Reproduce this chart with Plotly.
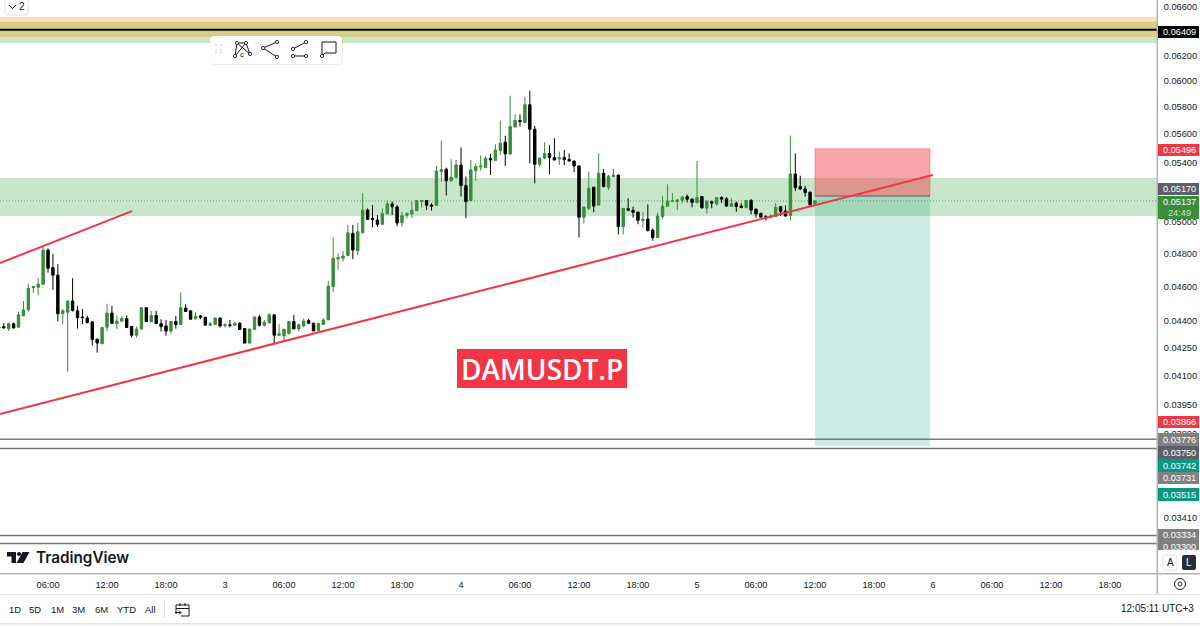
import math
import pandas as pd
import plotly.graph_objects as go

# ---------- data ----------
first_candle = "2025-05-02 01:00"
open_prices = [
 .04365,.04367,.04356,.04383,.04364,.04428,.04463,.04593,.04595,.04613,
 .04821,.04713,.04667,.04442,.04449,.04514,.04457,.04422,.04416,.04394,
 .04297,.04271,.04364,.04444,.04383,.04398,.04413,.04367,.04319,.04353,
 .04475,.04394,.04430,.04383,.04371,.04342,.04396,.04379,.04473,.04457,
 .04411,.04428,.04420,.04375,.04379,.04416,.04373,.04377,.04375,.04386,
 .04356,.04275,.04351,.04422,.04375,.04388,.04434,.04319,.04315,.04327,
 .04396,.04354,.04371,.04401,.04386,.04344,.04379,.04405,.04599,.04766,
 .04770,.04787,.04926,.04817,.04930,.05077,.05023,.05012,.04984,.05051,
 .05117,.05097,.04995,.05042,.05051,.05073,.05133,.05140,.05110,.05108,
 .05335,.05352,.05273,.05293,.05381,.05240,.05140,.05342,.05368,.05363,
 .05428,.05414,.05483,.05542,.05459,.05652,.05699,.05684,.05817,.05636,
 .05386,.05430,.05461,.05433,.05423,.05433,.05419,.05409,.05375,.05030,
 .05088,.05229,.05110,.05324,.05229,.05300,.05312,.04969,.05086,.05075,
 .05064,.05008,.05018,.04947,.04899,.05034,.05101,.05133,.05133,.05142,
 .05166,.05149,.05125,.05166,.05090,.05133,.05117,.05160,.05151,.05101,
 .05122,.05103,.05093,.05140,.05082,.05055,.05034,.05027,.05034,.05099,
 .05071,.05040,.05319,.05233,.05217,.05195,.05117]
high_prices = [
 .04375,.04386,.04390,.04390,.04453,.04514,.04615,.04603,.04649,.04846,
 .04831,.04797,.04734,.04467,.04516,.04649,.04486,.04467,.04428,.04396,
 .04299,.04362,.04498,.04486,.04428,.04428,.04432,.04371,.04367,.04475,
 .04478,.04457,.04457,.04409,.04405,.04396,.04428,.04565,.04494,.04459,
 .04449,.04434,.04422,.04392,.04416,.04418,.04386,.04405,.04392,.04392,
 .04358,.04354,.04422,.04434,.04405,.04444,.04436,.04381,.04353,.04396,
 .04434,.04383,.04414,.04411,.04390,.04385,.04414,.04633,.04900,.04801,
 .04815,.04980,.04980,.04992,.05189,.05088,.05110,.05044,.05088,.05140,
 .05133,.05110,.05066,.05060,.05133,.05142,.05144,.05144,.05122,.05375,
 .05552,.05363,.05421,.05416,.05504,.05300,.05416,.05393,.05449,.05440,
 .05459,.05528,.05699,.05588,.05885,.05745,.05745,.05877,.05924,.05660,
 .05433,.05542,.05523,.05571,.05475,.05487,.05463,.05411,.05377,.05097,
 .05335,.05233,.05463,.05354,.05312,.05354,.05314,.05090,.05155,.05099,
 .05066,.05066,.05114,.04958,.05060,.05170,.05248,.05189,.05149,.05170,
 .05180,.05155,.05409,.05170,.05144,.05138,.05162,.05166,.05162,.05155,
 .05133,.05122,.05144,.05151,.05088,.05060,.05044,.05049,.05122,.05103,
 .05106,.05590,.05463,.05307,.05239,.05200,.05140]
low_prices = [
 .04355,.04356,.04343,.04356,.04362,.04426,.04453,.04559,.04546,.04609,
 .04683,.04579,.04396,.04381,.04120,.04453,.04356,.04381,.04386,.04262,
 .04222,.04271,.04340,.04385,.04354,.04396,.04362,.04306,.04306,.04353,
 .04396,.04392,.04385,.04340,.04317,.04327,.04356,.04379,.04453,.04409,
 .04409,.04409,.04373,.04373,.04379,.04362,.04362,.04362,.04375,.04351,
 .04275,.04275,.04351,.04367,.04367,.04386,.04271,.04315,.04288,.04325,
 .04354,.04338,.04364,.04383,.04342,.04344,.04377,.04405,.04565,.04699,
 .04750,.04787,.04766,.04790,.04926,.05012,.04964,.04969,.04979,.05051,
 .05044,.04973,.04969,.05023,.05023,.05071,.05093,.05077,.05073,.05106,
 .05266,.05173,.05266,.05293,.05166,.05023,.05138,.05271,.05342,.05359,
 .05312,.05412,.05452,.05375,.05452,.05650,.05655,.05684,.05393,.05255,
 .05366,.05421,.05317,.05414,.05381,.05381,.05404,.05331,.04900,.04990,
 .05077,.05062,.05108,.05229,.05211,.05298,.04919,.04919,.05071,.05027,
 .04984,.04964,.04937,.04880,.04897,.05018,.05099,.05129,.05077,.05122,
 .05127,.05095,.05122,.05084,.05055,.05088,.05106,.05122,.05099,.05099,
 .05066,.05090,.05090,.05049,.05027,.05027,.05008,.05023,.05031,.05038,
 .05034,.05012,.05204,.05211,.05166,.05103,.05110]
close_prices = [
 .04360,.04360,.04383,.04360,.04434,.04463,.04587,.04599,.04613,.04821,
 .04709,.04667,.04440,.04457,.04514,.04459,.04418,.04418,.04390,.04295,
 .04275,.04362,.04444,.04385,.04399,.04413,.04362,.04319,.04353,.04475,
 .04396,.04430,.04385,.04367,.04342,.04396,.04379,.04475,.04453,.04409,
 .04426,.04420,.04375,.04383,.04416,.04371,.04379,.04373,.04386,.04351,
 .04275,.04354,.04422,.04375,.04392,.04434,.04319,.04327,.04353,.04396,
 .04354,.04377,.04399,.04386,.04342,.04385,.04405,.04601,.04770,.04774,
 .04784,.04930,.04821,.04936,.05077,.05016,.05016,.04984,.05055,.05117,
 .05099,.04992,.05042,.05055,.05075,.05140,.05140,.05108,.05103,.05340,
 .05349,.05273,.05296,.05381,.05240,.05133,.05347,.05370,.05375,.05428,
 .05416,.05487,.05535,.05459,.05655,.05699,.05692,.05817,.05636,.05386,
 .05428,.05461,.05433,.05416,.05433,.05419,.05409,.05375,.05030,.05097,
 .05222,.05103,.05324,.05233,.05305,.05312,.04969,.05088,.05075,.05062,
 .05010,.05016,.04945,.04899,.05038,.05103,.05135,.05138,.05144,.05162,
 .05149,.05127,.05160,.05093,.05133,.05122,.05160,.05149,.05103,.05119,
 .05101,.05093,.05140,.05077,.05051,.05031,.05027,.05038,.05095,.05066,
 .05038,.05319,.05226,.05217,.05193,.05112,.05137]

y_tick_values = [.066,.062,.060,.058,.056,.054,.050,.048,.046,.044,.0425,.041,.0395,.038,.0341]
y_tick_text = ["0.06600","0.06200","0.06000","0.05800","0.05600","0.05400","0.05000",
               "0.04800","0.04600","0.04400","0.04250","0.04100","0.03950","0.03800","0.03410"]
x_tick_values = ["2025-05-02 06:00","2025-05-02 12:00","2025-05-02 18:00","2025-05-03 00:00",
                 "2025-05-03 06:00","2025-05-03 12:00","2025-05-03 18:00","2025-05-04 00:00",
                 "2025-05-04 06:00","2025-05-04 12:00","2025-05-04 18:00","2025-05-05 00:00",
                 "2025-05-05 06:00","2025-05-05 12:00","2025-05-05 18:00","2025-05-06 00:00",
                 "2025-05-06 06:00","2025-05-06 12:00","2025-05-06 18:00"]
x_tick_text = ["06:00","12:00","18:00","3","06:00","12:00","18:00","4","06:00","12:00","18:00","5",
               "06:00","12:00","18:00","6","06:00","12:00","18:00"]
x_range = ["2025-05-02 01:07", "2025-05-06 22:47"]

mid_zone = [.05038, .05291]
top_zone_orange = [.06473, .06515]
top_zone_olive = [.06349, .06473]
top_zone_green = [.06300, .06349]
black_level = .06409
grey_levels = [.03776, .03731, .03334, .03300]
last_price = .05137
entry_price = .05170
stop_price = .05496
target_price = .03742
position_time = ["2025-05-05 12:00", "2025-05-05 23:42"]
trend_a_time = ["2025-05-02 01:07", "2025-05-06 00:00"]
trend_a_price = [.03901, .05312]
trend_b_time = ["2025-05-02 01:07", "2025-05-02 14:32"]
trend_b_price = [.04741, .05070]
range_buttons = ["1D","5D","1M","3M","6M","YTD","All"]
symbol_text = "DAMUSDT.P"
clock_text = "12:05:11 UTC+3"

# ---------- colours ----------
GREEN = "#388e3c"; BLACK = "#000000"; RED = "#f23645"; TEAL = "#089981"; INK = "#131722"
AXIS = "#b2b5be"; FAINT = "#e0e3eb"
UI_FONT = "Liberation Sans, sans-serif"
UI_SIZE = 9.2

times = pd.date_range(first_candle, periods=len(open_prices), freq="30min")

fig = go.Figure(go.Candlestick(
    x=times, open=open_prices, high=high_prices, low=low_prices, close=close_prices,
    increasing=dict(line=dict(color=GREEN, width=1), fillcolor=GREEN),
    decreasing=dict(line=dict(color=BLACK, width=1), fillcolor=BLACK),
    whiskerwidth=0, hoverinfo="skip", showlegend=False))

PW, PH = 1200.0, 626.0
PANE_R = 1157.0
X = lambda px: px / PW
Y = lambda py: 1 - py / PH
shapes, notes = [], []

def band(t0, t1, p0, p1, color, layer="below", line=None, xpaper=False):
    shapes.append(dict(type="rect", xref="paper" if xpaper else "x", yref="y", x0=t0, x1=t1, y0=p0, y1=p1,
                       fillcolor=color, line=line or dict(width=0), layer=layer))

def box(x0, y0, x1, y1, fill, line=None, layer="above", opacity=1):
    shapes.append(dict(type="rect", xref="paper", yref="paper", x0=X(x0), x1=X(x1), y0=Y(y0), y1=Y(y1),
                       fillcolor=fill, line=line or dict(width=0), layer=layer, opacity=opacity))

def seg(x0, y0, x1, y1, color=INK, w=1):
    shapes.append(dict(type="line", xref="paper", yref="paper", x0=X(x0), x1=X(x1), y0=Y(y0), y1=Y(y1),
                       line=dict(color=color, width=w), layer="above"))

def dot(x, y, r=1.6, fill="#ffffff", color=INK, w=0.9):
    shapes.append(dict(type="circle", xref="paper", yref="paper", x0=X(x-r), x1=X(x+r), y0=Y(y-r), y1=Y(y+r),
                       fillcolor=fill, line=dict(color=color, width=w), layer="above"))

def path(points, fill=None, color=None, w=1, close=True):
    d = "M" + " L".join(f"{X(a):.5f},{Y(b):.5f}" for a, b in points) + (" Z" if close else "")
    shapes.append(dict(type="path", xref="paper", yref="paper", path=d,
                       fillcolor=fill or "rgba(0,0,0,0)",
                       line=dict(color=color or "rgba(0,0,0,0)", width=w), layer="above"))

def rounded(x0, y0, x1, y1, r, fill, color=None, w=1):
    a, b = X(x0), X(x1); c, e = Y(y0), Y(y1); rx, ry = r / PW, r / PH
    d = (f"M{a+rx:.5f},{c:.5f} L{b-rx:.5f},{c:.5f} Q{b:.5f},{c:.5f} {b:.5f},{c-ry:.5f} "
         f"L{b:.5f},{e+ry:.5f} Q{b:.5f},{e:.5f} {b-rx:.5f},{e:.5f} L{a+rx:.5f},{e:.5f} "
         f"Q{a:.5f},{e:.5f} {a:.5f},{e+ry:.5f} L{a:.5f},{c-ry:.5f} Q{a:.5f},{c:.5f} {a+rx:.5f},{c:.5f} Z")
    shapes.append(dict(type="path", xref="paper", yref="paper", path=d, fillcolor=fill,
                       line=dict(color=color or "rgba(0,0,0,0)", width=w), layer="above"))

def text(x, y, s, size=UI_SIZE, color=INK, anchor="center", family=UI_FONT, weight=400):
    notes.append(dict(xref="paper", yref="paper", x=X(x), y=Y(y), text=s, showarrow=False,
                      xanchor=anchor, yanchor="middle", borderpad=0,
                      font=dict(size=size, color=color, family=family, weight=weight)))

PANE_X = [0, PANE_R / PW]

# zones
band(*PANE_X, *mid_zone, "#c8e6c9", xpaper=True)
band(*PANE_X, *top_zone_orange, "#ffe0b2", xpaper=True)
band(*PANE_X, *top_zone_olive, "#d8cd89", xpaper=True)
band(*PANE_X, *top_zone_green, "#c8e6c9", xpaper=True)
shapes.append(dict(type="line", xref="paper", yref="y", x0=PANE_X[0], x1=PANE_X[1], y0=last_price, y1=last_price,
                   line=dict(color="rgba(56,142,60,0.75)", width=1, dash="1px,2px"), layer="below"))

# position tool
band(*position_time, entry_price, stop_price, "rgba(242,54,69,0.45)", layer="above",
     line=dict(color="rgba(242,54,69,0.35)", width=1))
band(*position_time, target_price, entry_price, "rgba(8,153,129,0.20)", layer="above")
shapes.append(dict(type="line", xref="x", yref="y", x0=position_time[0], x1=position_time[1], y0=entry_price,
                   y1=entry_price, line=dict(color="#787b86", width=1.5), layer="above"))

# levels
shapes.append(dict(type="line", xref="paper", yref="y", x0=PANE_X[0], x1=PANE_X[1], y0=black_level, y1=black_level,
                   line=dict(color="#000000", width=2), layer="above"))
for level in grey_levels:
    shapes.append(dict(type="line", xref="paper", yref="y", x0=PANE_X[0], x1=PANE_X[1], y0=level, y1=level,
                       line=dict(color="#787878", width=1.5), layer="above"))

# trend lines
for t, p in ((trend_a_time, trend_a_price), (trend_b_time, trend_b_price)):
    shapes.append(dict(type="line", xref="x", yref="y", x0=t[0], x1=t[1], y0=p[0], y1=p[1],
                       line=dict(color=RED, width=2), layer="above"))

# symbol tag
box(457, 349, 627, 388, RED)
text(542, 368.5, symbol_text, size=28, color="#ffffff", family="Open Sans", weight=600)

# collapse button
rounded(5, -3, 28, 15, 3, "#ffffff", FAINT)
path([(9, 5), (12.5, 8.5), (16, 5)], color=INK, w=1, close=False)
text(22, 7, "2", size=10)

# floating toolbar
rounded(211, 37, 343, 65, 4, "rgba(0,0,0,0.07)")
rounded(210, 36, 342, 64, 4, "#ffffff")
for gx in (216, 221):
    for gy in (45, 50, 53):
        dot(gx, gy, r=0.7, fill="#b2b5be", color="#b2b5be", w=0)
path([(235, 56), (237, 43), (246, 43), (250, 54)], color=INK, close=False)
path([(235, 56), (246, 43)], color=INK, close=False)
path([(237, 43), (250, 54)], color=INK, close=False)
for a, b in ((235, 56), (237, 43), (246, 43), (250, 54)):
    dot(a, b)
text(242, 55, "c", size=8)
path([(277, 42), (263, 48), (277, 57)], color=INK, close=False)
for a, b in ((277, 42), (263, 48), (277, 57)):
    dot(a, b)
path([(306, 42), (293, 49)], color=INK, close=False)
path([(293, 56), (306, 56)], color=INK, close=False)
for a, b in ((306, 42), (293, 49), (293, 56), (306, 56)):
    dot(a, b)
path([(322, 42), (336, 42), (336, 53), (325, 53), (322, 56)], color=INK)
dot(322, 56)

# price scale labels
scale_labels = [(26, 38, "0.06409", "#000000"), (144, 156, "0.05496", RED), (183, 195, "0.05170", "#5d606b"),
                (416, 428, "0.03866", RED), (433, 446, "0.03776", "#808080"), (446, 459, "0.03750", "#5d606b"),
                (459, 472, "0.03742", TEAL), (472, 484, "0.03731", "#808080"), (488, 501, "0.03515", TEAL),
                (529, 541, "0.03334", "#808080"), (541, 552, "0.03300", "#808080")]
for y0, y1, s, c in scale_labels:
    box(1158, y0, 1199, y1, c)
    text(1179, (y0 + y1) / 2 + 0.3, s, color="#ffffff")
box(1158, 196, 1199, 219, GREEN)
text(1179, 202.5, "0.05137", color="#ffffff")
text(1179, 213, "24:49", color="#c8e6c9")
box(1158, 550, 1200, 573, "#ffffff")

# auto / log buttons
rounded(1163, 555, 1177, 570, 2, "#ffffff", FAINT)
text(1170, 562.5, "A", size=10)
rounded(1182, 555, 1196, 570, 2, "#2a2e39")
text(1189, 562.5, "L", size=10, color="#ffffff")

# frame lines
box(0, 573, 1200, 574.4, AXIS)
box(1156.5, 0, 1158, 595, AXIS)
box(0, 594, 1200, 595, FAINT)
box(0, 623, 1200, 624.5, FAINT)

# settings gear
dot(1180, 584, r=5.5, fill="#ffffff", color=INK, w=1)
dot(1180, 584, r=2, fill="#ffffff", color=INK, w=1)

# logo
path([(7, 552), (16, 552), (16, 563), (11.5, 563), (11.5, 556.5), (7, 556.5)], fill=INK)
dot(19, 554, r=2.1, fill=INK, color=INK, w=0)
path([(22.5, 552), (29.5, 552), (23.5, 563), (16.5, 563)], fill=INK)
text(35, 557.5, "TradingView", size=15.3, anchor="left", family="Inter", weight=600)

# range bar
for bx, label in zip((14.5, 35, 57, 79, 101, 126, 150), range_buttons):
    text(bx, 609, label, size=9.5)
box(164, 601, 165, 618, FAINT)
path([(176, 614), (176, 605), (189, 605), (189, 616), (181, 616)], color=INK, close=False)
seg(176, 608.5, 189, 608.5)
seg(180, 603, 180, 606)
seg(185, 603, 185, 606)
seg(175, 612.5, 181, 612.5)
path([(179, 610.5), (181, 612.5), (179, 614.5)], color=INK, close=False)
text(1195, 608, clock_text, size=10, anchor="right")

fig.update_layout(
    width=1200, height=626, autosize=False,
    margin=dict(l=0, r=0, t=0, b=0, pad=0, autoexpand=False),
    paper_bgcolor="#ffffff", plot_bgcolor="#ffffff",
    font=dict(family=UI_FONT, size=UI_SIZE, color=INK),
    showlegend=False, shapes=shapes, annotations=notes,
    xaxis=dict(type="date", domain=PANE_X, range=x_range, rangeslider=dict(visible=False), showgrid=False,
               zeroline=False, tickmode="array", tickvals=x_tick_values, ticktext=x_tick_text, ticks="outside",
               ticklen=3, tickcolor="rgba(0,0,0,0)", tickfont=dict(size=UI_SIZE, color=INK), showline=False),
    yaxis=dict(type="log", side="right", domain=[1 - 573 / PH, 1], showgrid=False, zeroline=False, showline=False,
               range=[math.log10(.066) - 566 / 1782, math.log10(.066) + 7 / 1782],
               tickmode="array", tickvals=y_tick_values, ticktext=y_tick_text, ticks="outside", ticklen=4,
               tickcolor="rgba(0,0,0,0)", tickfont=dict(size=UI_SIZE, color=INK)),
)

fig.write_html("out.html", config=dict(displayModeBar=False),
               post_script="document.body.style.margin='0';document.documentElement.style.overflow='hidden';")
